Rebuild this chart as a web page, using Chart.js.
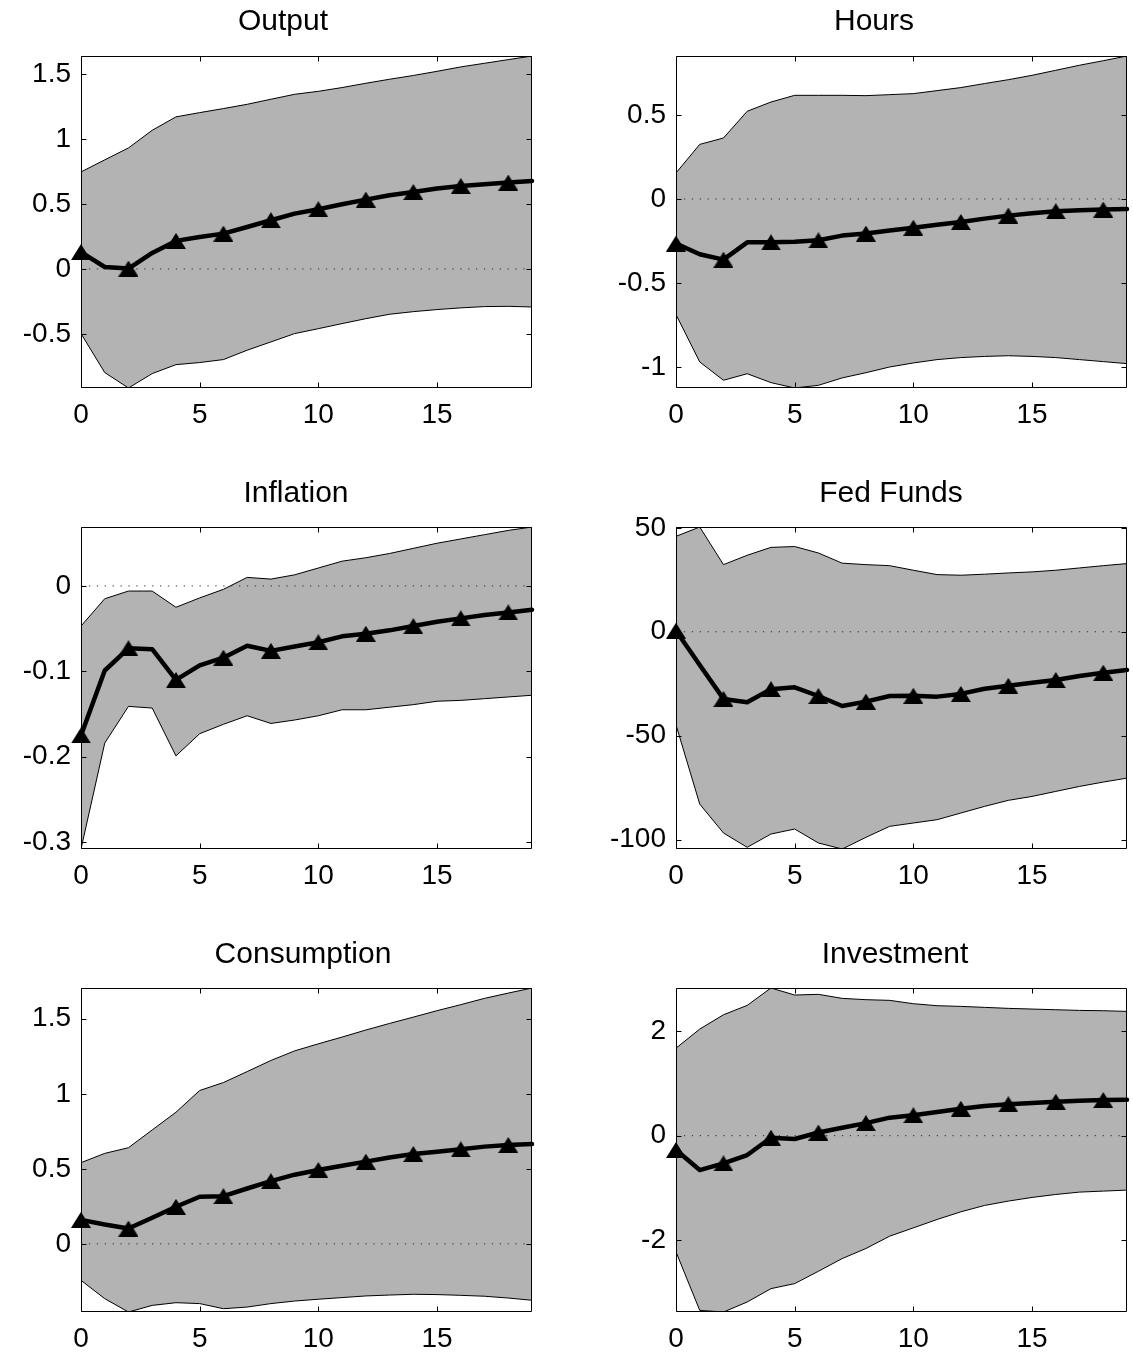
<!DOCTYPE html>
<html>
<head>
<meta charset="utf-8">
<script src="https://cdn.jsdelivr.net/npm/chart.js@4.4.1/dist/chart.umd.min.js"></script>
<style>
  html, body { margin: 0; padding: 0; background: #fff; }
  body { width: 1133px; height: 1356px; position: relative; overflow: hidden;
         font-family: "Liberation Sans", Arial, sans-serif; }
  .panel { position: absolute; }
  .title { position: absolute; font-size: 30px; line-height: 30px; color: #000;
           white-space: nowrap; transform: translateX(-50%); }
</style>
</head>
<body>
<script>
// Impulse-response horizon (quarters) and tick values
const horizon = [0, 1, 2, 3, 4, 5, 6, 7, 8, 9, 10, 11, 12, 13, 14, 15, 16, 17, 18, 19];
const xTicks = [0, 5, 10, 15];

// Output
const outputMedian = [0.13, 0.015, 0.003, 0.123, 0.216, 0.246, 0.272, 0.323, 0.375, 0.426, 0.46, 0.498, 0.534, 0.567, 0.593, 0.619, 0.639, 0.652, 0.665, 0.678];
const outputUpper  = [0.747, 0.84, 0.932, 1.068, 1.171, 1.204, 1.235, 1.268, 1.307, 1.345, 1.368, 1.397, 1.43, 1.461, 1.49, 1.522, 1.556, 1.584, 1.612, 1.64];
const outputLower  = [-0.498, -0.798, -0.917, -0.806, -0.737, -0.721, -0.698, -0.626, -0.562, -0.498, -0.46, -0.421, -0.383, -0.349, -0.329, -0.313, -0.3, -0.29, -0.288, -0.293];
const outputTicks  = [-0.5, 0, 0.5, 1, 1.5];

// Hours
const hoursMedian = [-0.265, -0.329, -0.361, -0.258, -0.258, -0.254, -0.246, -0.218, -0.206, -0.187, -0.171, -0.153, -0.137, -0.117, -0.099, -0.085, -0.073, -0.067, -0.063, -0.06];
const hoursUpper  = [0.155, 0.325, 0.363, 0.522, 0.577, 0.617, 0.617, 0.617, 0.615, 0.621, 0.627, 0.645, 0.663, 0.687, 0.71, 0.736, 0.766, 0.796, 0.823, 0.851];
const hoursLower  = [-0.688, -0.97, -1.079, -1.04, -1.093, -1.125, -1.109, -1.065, -1.034, -1.0, -0.976, -0.956, -0.944, -0.937, -0.933, -0.937, -0.944, -0.956, -0.968, -0.98];
const hoursTicks  = [-1, -0.5, 0, 0.5];

// Inflation
const inflationMedian = [-0.175, -0.099, -0.073, -0.074, -0.11, -0.093, -0.084, -0.07, -0.076, -0.071, -0.066, -0.059, -0.056, -0.052, -0.047, -0.042, -0.038, -0.034, -0.031, -0.028];
const inflationUpper  = [-0.047, -0.015, -0.006, -0.006, -0.025, -0.014, -0.004, 0.01, 0.008, 0.013, 0.021, 0.029, 0.033, 0.038, 0.044, 0.05, 0.055, 0.06, 0.065, 0.069];
const inflationLower  = [-0.308, -0.184, -0.141, -0.143, -0.199, -0.173, -0.162, -0.152, -0.161, -0.157, -0.152, -0.145, -0.145, -0.142, -0.139, -0.135, -0.134, -0.132, -0.13, -0.128];
const inflationTicks  = [-0.3, -0.2, -0.1, 0];

// Fed Funds
const fedFundsMedian = [0.5, -16, -32.3, -33.9, -27.6, -26.7, -30.9, -35.7, -33.6, -30.9, -30.8, -31.2, -29.9, -27.4, -26, -24.5, -23.2, -21.3, -19.7, -18.4];
const fedFundsUpper  = [45.9, 50.4, 32.3, 36.8, 40.6, 41, 37.9, 33, 32.3, 31.8, 29.6, 27.5, 27.2, 27.7, 28.3, 28.8, 29.6, 30.7, 31.8, 32.8];
const fedFundsLower  = [-44.8, -82.9, -96.8, -103.7, -97.3, -94.9, -101.6, -104.5, -98.9, -93.6, -92, -90.4, -87.2, -84, -81.1, -79.2, -76.8, -74.4, -72.3, -70.4];
const fedFundsTicks  = [-100, -50, 0, 50];

// Consumption
const consumptionMedian = [0.16, 0.129, 0.102, 0.174, 0.247, 0.314, 0.318, 0.369, 0.418, 0.461, 0.492, 0.521, 0.548, 0.576, 0.599, 0.614, 0.63, 0.648, 0.659, 0.665];
const consumptionUpper  = [0.541, 0.603, 0.641, 0.759, 0.877, 1.022, 1.075, 1.148, 1.222, 1.286, 1.333, 1.378, 1.425, 1.469, 1.511, 1.554, 1.594, 1.636, 1.671, 1.705];
const consumptionLower  = [-0.243, -0.365, -0.454, -0.41, -0.392, -0.398, -0.432, -0.421, -0.398, -0.381, -0.369, -0.358, -0.347, -0.341, -0.336, -0.338, -0.343, -0.349, -0.361, -0.376];
const consumptionTicks  = [0, 0.5, 1, 1.5];

// Investment
const investmentMedian = [-0.274, -0.657, -0.53, -0.37, -0.04, -0.064, 0.06, 0.15, 0.24, 0.344, 0.39, 0.45, 0.515, 0.565, 0.6, 0.625, 0.648, 0.665, 0.68, 0.686];
const investmentUpper  = [1.671, 2.035, 2.309, 2.488, 2.82, 2.686, 2.699, 2.622, 2.597, 2.584, 2.52, 2.482, 2.469, 2.45, 2.431, 2.418, 2.405, 2.392, 2.386, 2.373];
const investmentLower  = [-2.22, -3.337, -3.368, -3.177, -2.922, -2.826, -2.59, -2.348, -2.156, -1.92, -1.761, -1.601, -1.455, -1.333, -1.25, -1.18, -1.123, -1.078, -1.059, -1.04];
const investmentTicks  = [-2, 0, 2];

// Panels: which series go where
const panels = [
  { title: 'Output',      median: outputMedian,      upper: outputUpper,      lower: outputLower,      yTicks: outputTicks,      col: 0, row: 0 },
  { title: 'Hours',       median: hoursMedian,       upper: hoursUpper,       lower: hoursLower,       yTicks: hoursTicks,       col: 1, row: 0 },
  { title: 'Inflation',   median: inflationMedian,   upper: inflationUpper,   lower: inflationLower,   yTicks: inflationTicks,   col: 0, row: 1 },
  { title: 'Fed Funds',   median: fedFundsMedian,    upper: fedFundsUpper,    lower: fedFundsLower,    yTicks: fedFundsTicks,    col: 1, row: 1 },
  { title: 'Consumption', median: consumptionMedian, upper: consumptionUpper, lower: consumptionLower, yTicks: consumptionTicks, col: 0, row: 2 },
  { title: 'Investment',  median: investmentMedian,  upper: investmentUpper,  lower: investmentLower,  yTicks: investmentTicks,  col: 1, row: 2 }
];

// Page geometry (pixels)
const columns = [
  { left: 0,   width: 560, axisWidth: 81, padRight: 28 },
  { left: 590, width: 543, axisWidth: 86, padRight: 6 }
];
const rows = [
  { top: 26,  height: 430, padTop: 30, axisHeight: 68, titleTop: 5 },
  { top: 497, height: 420, padTop: 30, axisHeight: 68, titleTop: 477 },
  { top: 958, height: 398, padTop: 30, axisHeight: 44, titleTop: 938 }
];
const titleCenters = { 'Output': 283, 'Hours': 874, 'Inflation': 296, 'Fed Funds': 891, 'Consumption': 303, 'Investment': 895 };

const tickFont = { family: 'Liberation Sans', size: 28 };

// Filled triangle used as the marker on the point estimate
function makeTriangle(w, h) {
  const c = document.createElement('canvas');
  c.width = w; c.height = h;
  const g = c.getContext('2d');
  g.fillStyle = '#000';
  g.beginPath();
  g.moveTo(w / 2, 0);
  g.lineTo(w, h);
  g.lineTo(0, h);
  g.closePath();
  g.fill();
  return c;
}
const triangle = makeTriangle(20, 16);

// Box around the axes with inward tick marks on all four sides
const boxTicks = {
  id: 'boxTicks',
  afterDatasetsDraw(chart) {
    const { ctx, chartArea: a, scales: { x, y } } = chart;
    const L = Math.round(a.left) + 0.5, R = Math.round(a.right) - 0.5;
    const T = Math.round(a.top) + 0.5, B = Math.round(a.bottom) - 0.5;
    const len = 5;
    ctx.save();
    ctx.strokeStyle = '#000';
    ctx.lineWidth = 1;
    ctx.beginPath();
    ctx.rect(L, T, R - L, B - T);
    x.ticks.forEach(t => {
      const px = Math.round(x.getPixelForValue(t.value)) + 0.5;
      ctx.moveTo(px, B); ctx.lineTo(px, B - len);
      ctx.moveTo(px, T); ctx.lineTo(px, T + len);
    });
    y.ticks.forEach(t => {
      const py = Math.round(y.getPixelForValue(t.value)) + 0.5;
      ctx.moveTo(L, py); ctx.lineTo(L + len, py);
      ctx.moveTo(R, py); ctx.lineTo(R - len, py);
    });
    ctx.stroke();
    ctx.restore();
  }
};

const toPoints = vals => horizon.map((h, i) => ({ x: h, y: vals[i] }));

panels.forEach(p => {
  const col = columns[p.col];
  const row = rows[p.row];

  const wrap = document.createElement('div');
  wrap.className = 'panel';
  wrap.style.left = col.left + 'px';
  wrap.style.top = row.top + 'px';
  const canvas = document.createElement('canvas');
  canvas.width = col.width;
  canvas.height = row.height;
  canvas.style.width = col.width + 'px';
  canvas.style.height = row.height + 'px';
  wrap.appendChild(canvas);
  document.body.appendChild(wrap);

  const title = document.createElement('div');
  title.className = 'title';
  title.textContent = p.title;
  title.style.left = titleCenters[p.title] + 'px';
  title.style.top = row.titleTop + 'px';
  document.body.appendChild(title);

  // tight y limits from the confidence band
  const yMin = Math.min(...p.lower);
  const yMax = Math.max(...p.upper);
  const first = horizon[0], last = horizon[horizon.length - 1];

  new Chart(canvas, {
    type: 'line',
    data: {
      datasets: [
        {
          label: 'median',
          data: toPoints(p.median),
          borderColor: '#000',
          borderWidth: 4.5,
          borderJoinStyle: 'round',
          borderCapStyle: 'round',
          fill: false,
          tension: 0,
          pointStyle: triangle,
          pointRadius: ctx => (ctx.dataIndex % 2 === 0 ? 8 : 0),
          pointHoverRadius: 0,
          clip: false,
          order: 0
        },
        {
          label: 'zero',
          data: [{ x: first, y: 0 }, { x: last, y: 0 }],
          borderColor: '#333',
          borderWidth: 1,
          borderDash: [1.3, 6.6],
          pointRadius: 0,
          fill: false,
          order: 1
        },
        {
          label: 'upper',
          data: toPoints(p.upper),
          borderColor: '#000',
          borderWidth: 1,
          backgroundColor: '#b3b3b3',
          fill: '+1',
          pointRadius: 0,
          tension: 0,
          order: 2
        },
        {
          label: 'lower',
          data: toPoints(p.lower),
          borderColor: '#000',
          borderWidth: 1,
          fill: false,
          pointRadius: 0,
          tension: 0,
          order: 3
        }
      ]
    },
    options: {
      responsive: false,
      animation: false,
      devicePixelRatio: 1,
      events: [],
      layout: { autoPadding: false, padding: { top: row.padTop, right: col.padRight, left: 0, bottom: 0 } },
      plugins: {
        legend: { display: false },
        tooltip: { enabled: false },
        title: { display: false },
        filler: { drawTime: 'beforeDatasetsDraw' }
      },
      scales: {
        x: {
          type: 'linear',
          min: first,
          max: last,
          grid: { display: false, drawTicks: false },
          border: { display: false },
          afterBuildTicks: s => { s.ticks = xTicks.map(v => ({ value: v })); },
          afterFit: s => { s.height = row.axisHeight; },
          ticks: { font: tickFont, color: '#000', padding: 10, maxRotation: 0, autoSkip: false,
                   callback: v => String(v) }
        },
        y: {
          type: 'linear',
          min: yMin,
          max: yMax,
          grid: { display: false, drawTicks: false },
          border: { display: false },
          afterBuildTicks: s => { s.ticks = p.yTicks.map(v => ({ value: v })); },
          afterFit: s => { s.width = col.axisWidth; },
          ticks: { font: tickFont, color: '#000', padding: 10, autoSkip: false,
                   callback: v => String(v) }
        }
      }
    },
    plugins: [boxTicks]
  });
});
</script>
</body>
</html>
